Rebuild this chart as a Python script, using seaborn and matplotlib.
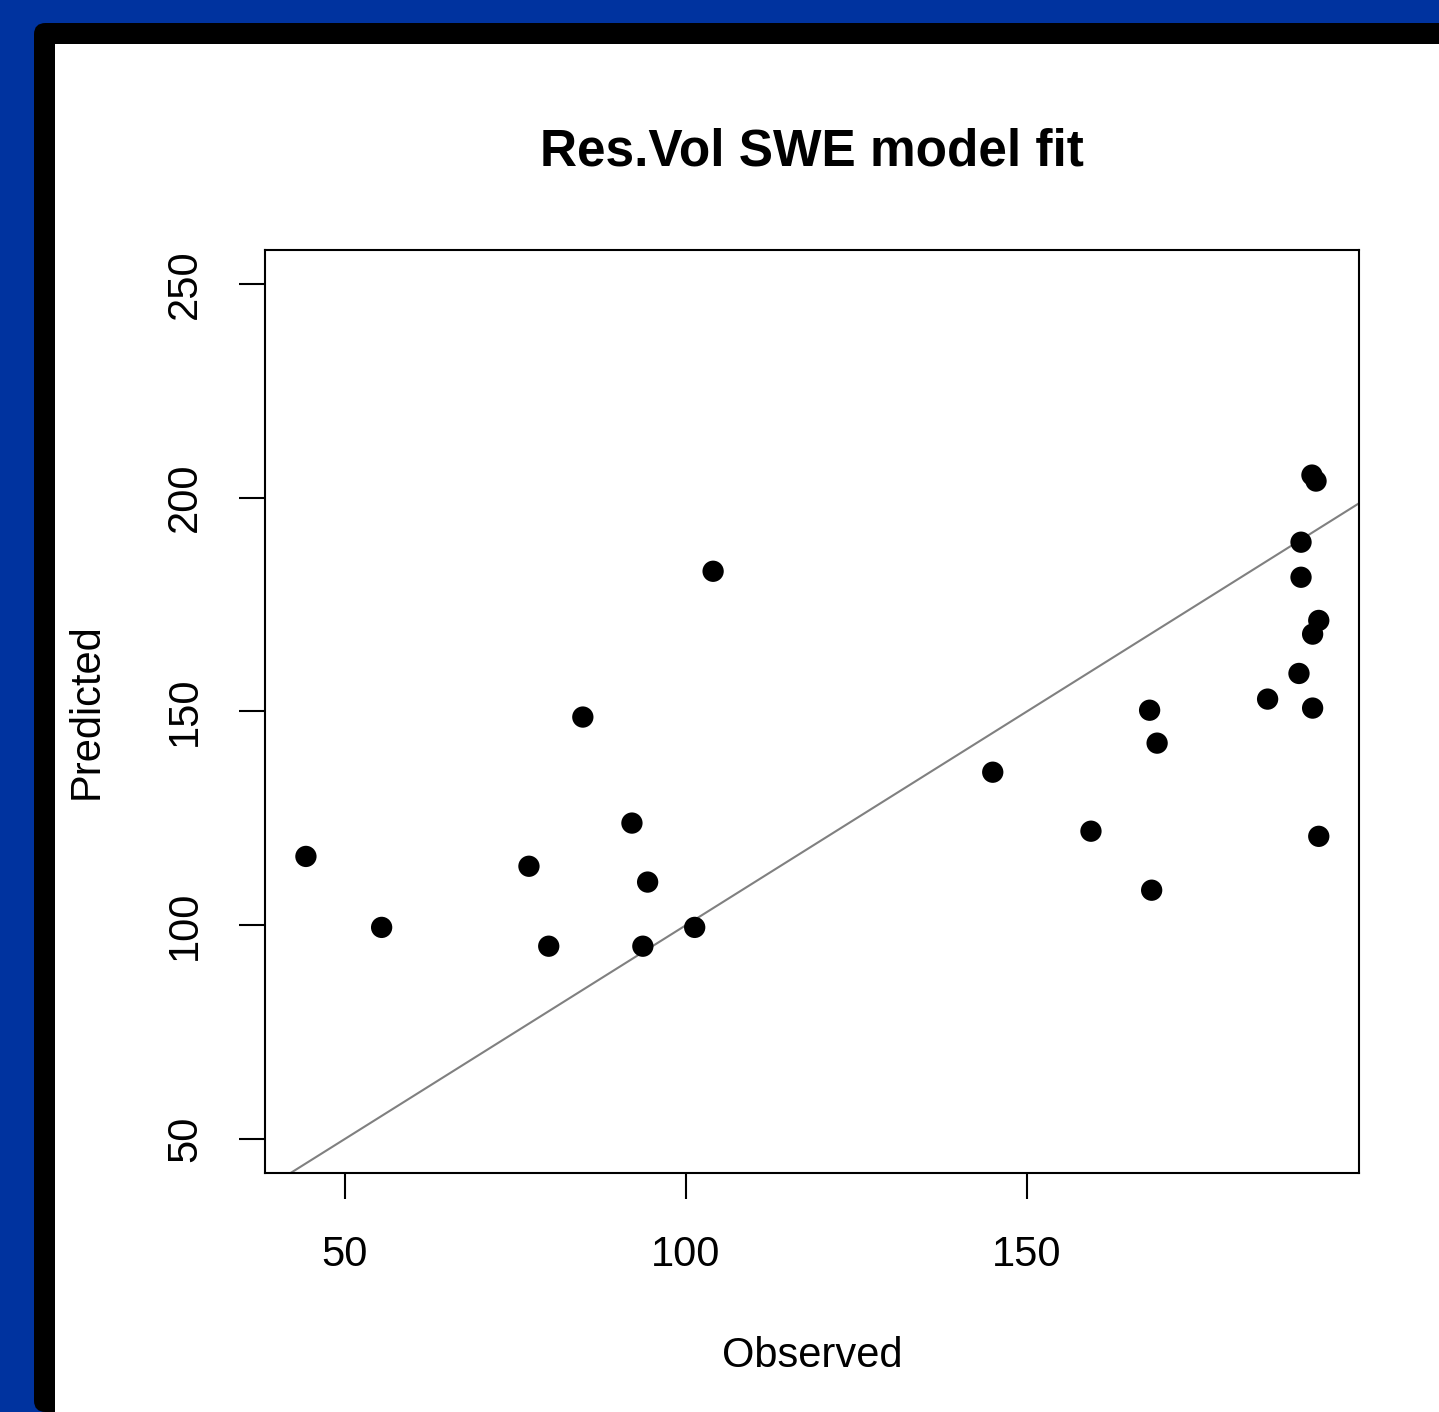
import seaborn as sns
import pandas as pd
import numpy as np
import matplotlib.pyplot as plt
from matplotlib.patches import FancyBboxPatch, Rectangle

# values
observed = [44.3, 55.4, 77.0, 79.9, 84.9, 92.1, 93.7, 94.4, 101.3, 104.0,
            145.0, 159.4, 168.0, 168.3, 169.1, 185.3, 189.9, 190.2, 190.2,
            191.8, 192.4, 191.9, 192.8, 191.9, 192.8]
predicted = [116.1, 99.5, 113.8, 95.1, 148.7, 123.9, 95.1, 110.1, 99.5, 182.8,
             135.8, 122.0, 150.3, 108.2, 142.6, 152.9, 158.9, 189.6, 181.4,
             205.3, 203.9, 168.1, 171.3, 150.8, 120.8]
x_ticks = [50, 100, 150]
y_ticks = [50, 100, 150, 200, 250]

df = pd.DataFrame({"Observed": observed, "Predicted": predicted})

sns.set_style("ticks")
plt.rcParams["font.family"] = ["Liberation Sans", "DejaVu Sans"]
plt.rcParams.update({"text.color": "black", "axes.labelcolor": "black",
                     "xtick.color": "black", "ytick.color": "black"})

W, H = 1439, 1412
fig = plt.figure(figsize=(W / 100, H / 100), dpi=100, facecolor="#00339F")

# black frame + white panel (behind the axes)
fig.patches.append(FancyBboxPatch((34 / W, 0), 1.2, (H - 23) / H,
                                  boxstyle="round,pad=0,rounding_size=0.008",
                                  transform=fig.transFigure, facecolor="black",
                                  edgecolor="none", zorder=-2))
fig.patches.append(Rectangle((55 / W, 0), 1, (H - 44) / H, transform=fig.transFigure,
                             facecolor="white", edgecolor="none", zorder=-1))

ax = fig.add_axes([265 / W, 1 - 1173 / H, (1359 - 265) / W, (1173 - 250) / H])
ax.set_facecolor("white")

sns.scatterplot(data=df, x="Observed", y="Predicted", color="black", s=235,
                edgecolor="none", ax=ax, zorder=3)
ax.axline((0, 0), slope=1, color="#808080", lw=1.5, zorder=2)

ax.set_xlim(38.3, 198.7)
ax.set_ylim(42.05, 257.95)
ax.set_xticks(x_ticks)
ax.set_yticks(y_ticks)
ax.set_yticklabels([str(v) for v in y_ticks], rotation=90, va="center")

for s in ax.spines.values():
    s.set_visible(True)
    s.set_linewidth(1.5)
    s.set_color("black")
ax.tick_params(axis="both", length=19, width=1.5, color="black",
               labelcolor="black", labelsize=30)
ax.tick_params(axis="x", pad=26)
ax.tick_params(axis="y", pad=24)

ax.set_xlabel("Observed", fontsize=30, color="black")
ax.set_ylabel("Predicted", fontsize=30, color="black")
ax.xaxis.set_label_coords(0.5, -(1336 - 1173) / 923)
ax.yaxis.set_label_coords((107 - 265) / 1094, 0.5)
ax.set_title("Res.Vol SWE model fit", fontsize=37, fontweight="bold",
             color="black", pad=61)

fig.savefig("out.png", dpi=100, facecolor=fig.get_facecolor())
